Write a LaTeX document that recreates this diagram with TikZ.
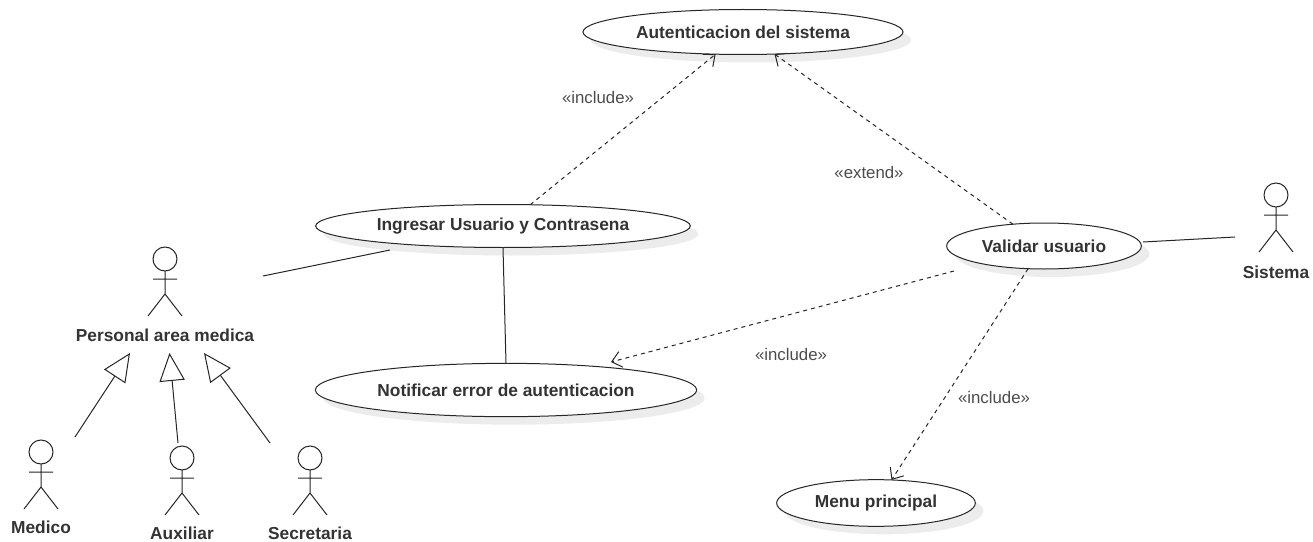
\documentclass[tikz,border=0pt]{standalone}
\usepackage{fontspec}
\setmainfont{Liberation Sans}
\usetikzlibrary{arrows.meta,shadows,shapes.geometric}

\begin{document}
\begin{tikzpicture}
[x=0.75pt,y=-0.75pt,line width=0.75pt,
usecase/.style={ellipse,draw=black!85,fill=white,inner sep=0pt,outer sep=0pt,font=\bfseries\fontsize{13}{15}\selectfont,text=black!80,
  drop shadow={shadow xshift=6pt,shadow yshift=-6pt,fill=black!12,opacity=0.6}},
actorname/.style={font=\bfseries\fontsize{13}{15}\selectfont,text=black!80,inner sep=0pt},
stereotype/.style={font=\fontsize{12.6}{15}\selectfont,text=black!70,inner sep=0pt},
depends/.style={dashed,dash pattern=on 3pt off 3pt,black!85,-{Straight Barb[length=7pt,width=12pt]}},
generalizes/.style={black!85,-{Triangle[open,fill=white,length=21pt,width=19pt]}},
actor/.pic={
  \draw[black!85] (0,0) circle (12);
  \draw[black!85] (0,12) -- (0,35) (-12,20) -- (12,20) (-17,57) -- (0,35) -- (17,57);
}]
\useasboundingbox (0,0) rectangle (1313,542);

\node[usecase,minimum width=240pt,minimum height=33.75pt] (auth) at (743,32) {Autenticacion del sistema};
\node[usecase,minimum width=281pt,minimum height=32.25pt] (ingresar) at (503,226) {Ingresar Usuario y Contrasena};
\node[usecase,minimum width=286pt,minimum height=40pt] (notificar) at (506,390) {Notificar error de autenticacion};
\node[usecase,minimum width=146pt,minimum height=34.5pt] (validar) at (1044,246) {Validar usuario};
\node[usecase,minimum width=149pt,minimum height=35pt] (menu) at (876,503) {Menu principal};

\pic at (165,259) {actor};
\pic at (41,452) {actor};
\pic at (182,458) {actor};
\pic at (310,458) {actor};
\pic at (1276,195) {actor};

\node[actorname] (personal) at (165,335) {Personal area medica};
\node[actorname] (medico) at (41,527) {Medico};
\node[actorname] (auxiliar) at (182,533) {Auxiliar};
\node[actorname] (secretaria) at (310,533) {Secretaria};
\node[actorname] (sistema) at (1276,272) {Sistema};

\node[stereotype] (include1) at (598,97) {«include»};
\node[stereotype] (extend1) at (869,172) {«extend»};
\node[stereotype] (include2) at (791,354) {«include»};
\node[stereotype] (include3) at (994,397) {«include»};

\coordinate (personalend) at (263,276);
\coordinate (ingresarend) at (390,250);
\coordinate (validarend) at (1143,242);
\coordinate (sistemaend) at (1235,237);
\coordinate (medicoend) at (75,437);
\coordinate (medicotip) at (130,353);
\coordinate (auxiliarend) at (178,443);
\coordinate (auxiliartip) at (169.5,353);
\coordinate (secretariaend) at (270,443);
\coordinate (secretariatip) at (204,353);
\coordinate (validarstart) at (954,271);
\coordinate (notificarend) at (611,362);

\draw [black!85] (personalend) -- (ingresarend);
\draw [black!85] (validarend) -- (sistemaend);
\draw [black!85] (ingresar.south) -- (notificar.north);
\draw [generalizes] (medicoend) -- (medicotip);
\draw [generalizes] (auxiliarend) -- (auxiliartip);
\draw [generalizes] (secretariaend) -- (secretariatip);
\draw [depends] (ingresar.38) -- (auth.219);
\draw [depends] (validar.145) -- (auth.325);
\draw [depends] (validarstart) -- (notificarend);
\draw [depends] (validar.235) -- (menu.56);
\end{tikzpicture}
\end{document}
